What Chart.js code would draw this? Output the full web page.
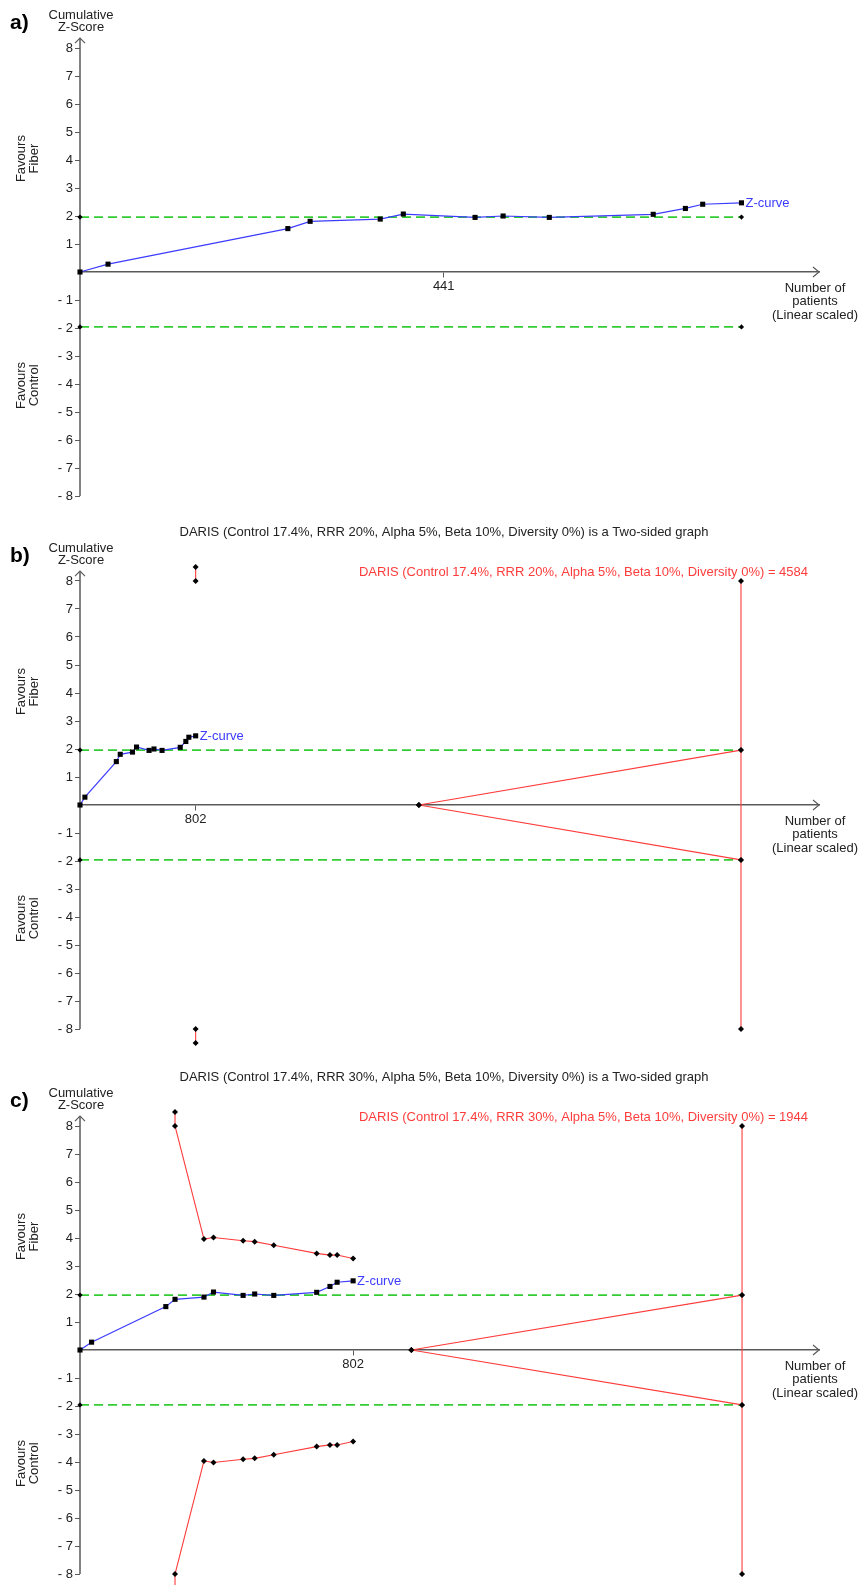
<!DOCTYPE html>
<html>
<head>
<meta charset="utf-8">
<script src="https://cdn.jsdelivr.net/npm/chart.js@4.4.1/dist/chart.umd.min.js"></script>
<style>
  body { margin: 0; background: #fff; }
  .panel { position: relative; width: 859px; }
</style>
</head>
<body>
<div class="panel" style="height:525px"><canvas id="chartA"></canvas></div>
<div class="panel" style="height:540px"><canvas id="chartB"></canvas></div>
<div class="panel" style="height:520px"><canvas id="chartC"></canvas></div>
<script>
// cumulative z-curve (same trials in every panel)
const zPatients = [0, 34, 252, 279, 364, 392, 479, 513, 569, 695, 734, 755, 802];
const zScores = [0, 0.28, 1.55, 1.81, 1.89, 2.07, 1.95, 2.00, 1.95, 2.06, 2.27, 2.42, 2.47];
const zLimit = 1.96;
const yTicks = [-8, -7, -6, -5, -4, -3, -2, -1, 1, 2, 3, 4, 5, 6, 7, 8];

// panel a
const xMaxA = 896;
const xTicksA = [441];
const greenEndA = 802;

// panel b : RRR 20%
const xMaxB = 5125;
const xTicksB = [802];
const risB = 4584;
const futStartB = 2350;
const boundBx = [802, 802];
const boundBy = [8.5, 8.0];

// panel c : RRR 30%
const xMaxC = 2170;
const xTicksC = [802];
const risC = 1944;
const futStartC = 973;
const boundCx = [279, 279, 364, 392, 479, 513, 569, 695, 734, 755, 802];
const boundCy = [8.5, 8.0, 3.96, 4.02, 3.90, 3.87, 3.74, 3.45, 3.39, 3.39, 3.27];

const FONT = '"Liberation Sans", Arial, sans-serif';
const BLUE = '#3c3cff', RED = '#ff3c3c', GREEN = '#33cc33', AXIS = '#5a5a5a';
const AXIS_TOP = 8.35, AXIS_BOTTOM = -8;

function pts(xs, ys) {
  return xs.map((x, i) => ({ x: x, y: ys[i] }));
}

function zCurve() {
  return {
    data: pts(zPatients, zScores), showLine: true, clip: false,
    borderColor: BLUE, borderWidth: 1.2,
    pointStyle: 'rect', pointRadius: 3.6, pointBackgroundColor: '#000', pointBorderWidth: 0
  };
}

function greenLine(end, sign) {
  return {
    data: pts([0, end], [sign * zLimit, sign * zLimit]), showLine: true, clip: false,
    borderColor: GREEN, borderWidth: 1.6, borderDash: [9, 5],
    pointStyle: 'rectRot', pointRadius: 2.6, pointBackgroundColor: '#000', pointBorderWidth: 0
  };
}

function redLine(data) {
  return {
    data: data, showLine: true, clip: false,
    borderColor: RED, borderWidth: 1.1,
    pointStyle: 'rectRot', pointRadius: 3, pointBackgroundColor: '#000', pointBorderWidth: 0
  };
}

function panelPlugin(p) {
  return {
    id: 'panelText',
    beforeDatasetsDraw(chart) {
      // y axis line, only between -8 and the arrow
      const ctx = chart.ctx, ys = chart.scales.y, x = chart.chartArea.left;
      ctx.save();
      ctx.strokeStyle = AXIS;
      ctx.lineWidth = 1.5;
      ctx.beginPath();
      ctx.moveTo(x, ys.getPixelForValue(AXIS_TOP));
      ctx.lineTo(x, ys.getPixelForValue(AXIS_BOTTOM));
      ctx.stroke();
      ctx.restore();
    },
    afterDraw(chart) {
      const ctx = chart.ctx, area = chart.chartArea;
      const xs = chart.scales.x, ys = chart.scales.y;
      const y0 = ys.getPixelForValue(0);
      const top = ys.getPixelForValue(AXIS_TOP);
      const t8 = ys.getPixelForValue(8);
      ctx.save();
      // axis arrows
      ctx.strokeStyle = AXIS;
      ctx.lineWidth = 1.2;
      ctx.beginPath();
      ctx.moveTo(area.left - 5, top + 5);
      ctx.lineTo(area.left, top);
      ctx.lineTo(area.left + 5, top + 5);
      ctx.moveTo(area.right - 6, y0 - 5);
      ctx.lineTo(area.right, y0);
      ctx.lineTo(area.right - 6, y0 + 5);
      ctx.stroke();

      ctx.fillStyle = '#000';
      ctx.textBaseline = 'middle';
      ctx.textAlign = 'left';
      ctx.font = 'bold 21px ' + FONT;
      ctx.fillText(p.letter, 10, t8 - 25);

      ctx.font = '13px ' + FONT;
      ctx.textAlign = 'center';
      ctx.fillStyle = '#222';
      ctx.fillText('Cumulative', 81, t8 - 33);
      ctx.fillText('Z-Score', 81, t8 - 20.5);
      ctx.fillText('Number of', 815, y0 + 16);
      ctx.fillText('patients', 815, y0 + 29.5);
      ctx.fillText('(Linear scaled)', 815, y0 + 43);
      if (p.title) ctx.fillText(p.title, 444, t8 - 48.5);

      // rotated side labels
      [[4.05, 'Fiber'], [-4.05, 'Control']].forEach(([v, word]) => {
        ctx.save();
        ctx.translate(28, ys.getPixelForValue(v));
        ctx.rotate(-Math.PI / 2);
        ctx.fillText('Favours', 0, -6.25);
        ctx.fillText(word, 0, 6.25);
        ctx.restore();
      });

      if (p.risLabel) {
        ctx.fillStyle = RED;
        ctx.textAlign = 'right';
        ctx.fillText(p.risLabel, 808, t8 - 9);
      }

      const n = zPatients.length - 1;
      ctx.fillStyle = BLUE;
      ctx.textAlign = 'left';
      ctx.fillText('Z-curve', xs.getPixelForValue(zPatients[n]) + 4, ys.getPixelForValue(zScores[n]) + 1);
      ctx.restore();
    }
  };
}

function makeChart(id, p) {
  return new Chart(document.getElementById(id), {
    type: 'scatter',
    data: { datasets: p.datasets },
    options: {
      responsive: true,
      maintainAspectRatio: false,
      animation: false,
      events: [],
      layout: { padding: { left: 0, right: 40, top: p.padTop, bottom: p.padBottom } },
      plugins: { legend: { display: false }, tooltip: { enabled: false } },
      scales: {
        x: {
          type: 'linear', min: 0, max: p.xMax, position: { y: 0 },
          afterBuildTicks: s => { s.ticks = p.xTicks.map(v => ({ value: v })); },
          afterFit: s => { s.height = 0; },
          grid: { display: true, drawOnChartArea: false, drawTicks: true, tickLength: 5, color: AXIS },
          border: { display: true, color: AXIS, width: 1.5 },
          ticks: { autoSkip: false, maxRotation: 0, padding: 2, color: '#222', font: { family: FONT, size: 13 } }
        },
        y: {
          type: 'linear', min: p.yMin, max: 8.6, position: 'left',
          afterBuildTicks: s => { s.ticks = yTicks.map(v => ({ value: v })); },
          afterFit: s => { s.width = 80; },
          grid: { display: true, drawOnChartArea: false, drawTicks: true, tickLength: 5, color: AXIS },
          border: { display: false },
          ticks: {
            autoSkip: false, padding: 2, color: '#222', font: { family: FONT, size: 13 },
            callback: v => v < 0 ? '- ' + (-v) : String(v)
          }
        }
      }
    },
    plugins: [panelPlugin(p)]
  });
}

makeChart('chartA', {
  letter: 'a)', xMax: xMaxA, xTicks: xTicksA, yMin: -8, padTop: 31.2, padBottom: 29,
  datasets: [zCurve(), greenLine(greenEndA, 1), greenLine(greenEndA, -1)]
});

makeChart('chartB', {
  letter: 'b)', xMax: xMaxB, xTicks: xTicksB, yMin: -8.6, padTop: 39.2, padBottom: 19.2,
  title: 'DARIS (Control 17.4%, RRR 20%, Alpha 5%, Beta 10%, Diversity 0%) is a Two-sided graph',
  risLabel: 'DARIS (Control 17.4%, RRR 20%, Alpha 5%, Beta 10%, Diversity 0%) = ' + risB,
  datasets: [
    zCurve(),
    redLine(pts(boundBx, boundBy)),
    redLine(pts(boundBx, boundBy.map(v => -v))),
    redLine(pts([futStartB, risB], [0, zLimit])),
    redLine(pts([futStartB, risB], [0, -zLimit])),
    redLine(pts([risB, risB], [-8, 8])),
    greenLine(risB, 1), greenLine(risB, -1)
  ]
});

makeChart('chartC', {
  letter: 'c)', xMax: xMaxC, xTicks: xTicksC, yMin: -8, padTop: 44.2, padBottom: 11,
  title: 'DARIS (Control 17.4%, RRR 30%, Alpha 5%, Beta 10%, Diversity 0%) is a Two-sided graph',
  risLabel: 'DARIS (Control 17.4%, RRR 30%, Alpha 5%, Beta 10%, Diversity 0%) = ' + risC,
  datasets: [
    zCurve(),
    redLine(pts(boundCx, boundCy)),
    redLine(pts(boundCx, boundCy.map(v => -v))),
    redLine(pts([futStartC, risC], [0, zLimit])),
    redLine(pts([futStartC, risC], [0, -zLimit])),
    redLine(pts([risC, risC], [-8, 8])),
    greenLine(risC, 1), greenLine(risC, -1)
  ]
});
</script>
</body>
</html>
